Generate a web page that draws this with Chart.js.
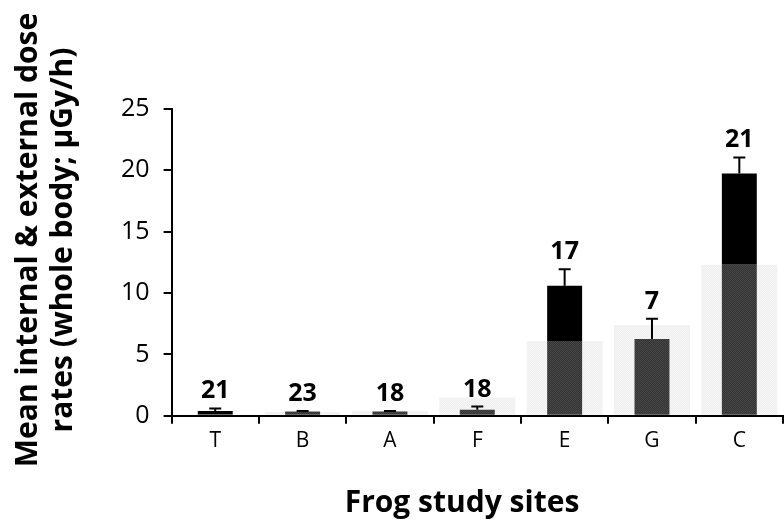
<!DOCTYPE html>
<html>
<head>
<meta charset="utf-8">
<script src="https://cdn.jsdelivr.net/npm/chart.js@4.4.1/dist/chart.umd.min.js"></script>
<style>
  html, body { margin:0; padding:0; background:#fff; }
  #wrap { width:784px; height:522px; }
</style>
</head>
<body>
<div id="wrap"><canvas id="chart" width="784" height="522"></canvas></div>
<script>
// Datos
const sites      = ['T', 'B', 'A', 'F', 'E', 'G', 'C'];
const bgRates    = [0.1, 0.3, 0.4, 1.5, 6.1, 7.4, 12.3];   // barra ancha gris claro
const darkRates  = [0.1, 0.35, 0.35, 0.5, 6.1, 6.25, 12.3];
const blackRates = [0.3, 0, 0, 0, 4.5, 0, 7.45];
const errTop     = [0.6, 0.4, 0.4, 0.75, 11.95, 7.9, 21.05];
const nLabels    = ['21', '23', '18', '18', '17', '7', '21'];
const yTicks     = [0, 5, 10, 15, 20, 25];
const yTitle     = ['Mean internal & external dose', 'rates (whole body; µGy/h)'];
const xTitle     = 'Frog study sites';

const FONT = "'Open Sans', sans-serif";

function checker(a, b) {
  const c = document.createElement('canvas');
  c.width = 2; c.height = 2;
  const x = c.getContext('2d');
  x.fillStyle = a; x.fillRect(0, 0, 2, 2);
  x.fillStyle = b; x.fillRect(0, 0, 1, 1); x.fillRect(1, 1, 1, 1);
  return x.createPattern(c, 'repeat');
}

// barras de error, n encima y títulos de ejes
const errPlugin = {
  id: 'errLabels',
  afterDatasetsDraw(chart) {
    const { ctx, scales: { x, y } } = chart;
    ctx.save();
    sites.forEach((s, i) => {
      const cx = x.getPixelForValue(i);
      const base = y.getPixelForValue(darkRates[i] + blackRates[i]);
      const top = y.getPixelForValue(errTop[i]);
      ctx.strokeStyle = '#000';
      ctx.lineWidth = 2;
      ctx.beginPath();
      ctx.moveTo(cx, base); ctx.lineTo(cx, top);
      ctx.moveTo(cx - 6, top); ctx.lineTo(cx + 6, top);
      ctx.stroke();
      ctx.fillStyle = '#000';
      ctx.font = `bold 25px ${FONT}`;
      ctx.textAlign = 'center';
      ctx.textBaseline = 'alphabetic';
      ctx.fillText(nLabels[i], cx, top - 10);
    });

    ctx.font = `bold 30px ${FONT}`;
    ctx.textAlign = 'center';
    ctx.textBaseline = 'alphabetic';
    ctx.fillText(xTitle, 462, 512);

    ctx.translate(0, 240);
    ctx.rotate(-Math.PI / 2);
    ctx.fillText(yTitle[0], 0, 37);
    ctx.fillText(yTitle[1], 0, 72);
    ctx.restore();
  }
};

new Chart(document.getElementById('chart'), {
  type: 'bar',
  data: {
    labels: sites,
    datasets: [
      {
        label: 'fondo',
        data: bgRates,
        backgroundColor: checker('#efefef', '#f6f6f6'),
        barPercentage: 0.87, categoryPercentage: 1,
        grouped: false, stack: 'bg', order: 3,
      },
      {
        label: 'externa',
        data: darkRates,
        backgroundColor: checker('#333333', '#474747'),
        barPercentage: 0.4, categoryPercentage: 1,
        grouped: false, stack: 'main', order: 1,
      },
      {
        label: 'interna',
        data: blackRates,
        backgroundColor: '#000',
        barPercentage: 0.4, categoryPercentage: 1,
        grouped: false, stack: 'main', order: 2,
      },
    ]
  },
  options: {
    responsive: false,
    animation: false,
    layout: { padding: { top: 109, right: 1, bottom: 63, left: 107 } },
    plugins: { legend: { display: false }, tooltip: { enabled: false } },
    scales: {
      x: {
        stacked: true,
        grid: { display: true, drawOnChartArea: false, color: '#000', lineWidth: 2, tickLength: 8, offset: true },
        border: { color: '#000', width: 2 },
        ticks: { color: '#000', font: { family: FONT, size: 21 }, padding: 5 },
      },
      y: {
        stacked: true,
        min: 0, max: 25,
        afterBuildTicks: ax => { ax.ticks = yTicks.map(v => ({ value: v })); },
        grid: { display: true, drawOnChartArea: false, color: '#000', lineWidth: 2, tickLength: 8 },
        border: { color: '#000', width: 2 },
        ticks: { color: '#000', font: { family: FONT, size: 25 }, padding: 14 },
      }
    }
  },
  plugins: [errPlugin]
});
</script>
</body>
</html>
